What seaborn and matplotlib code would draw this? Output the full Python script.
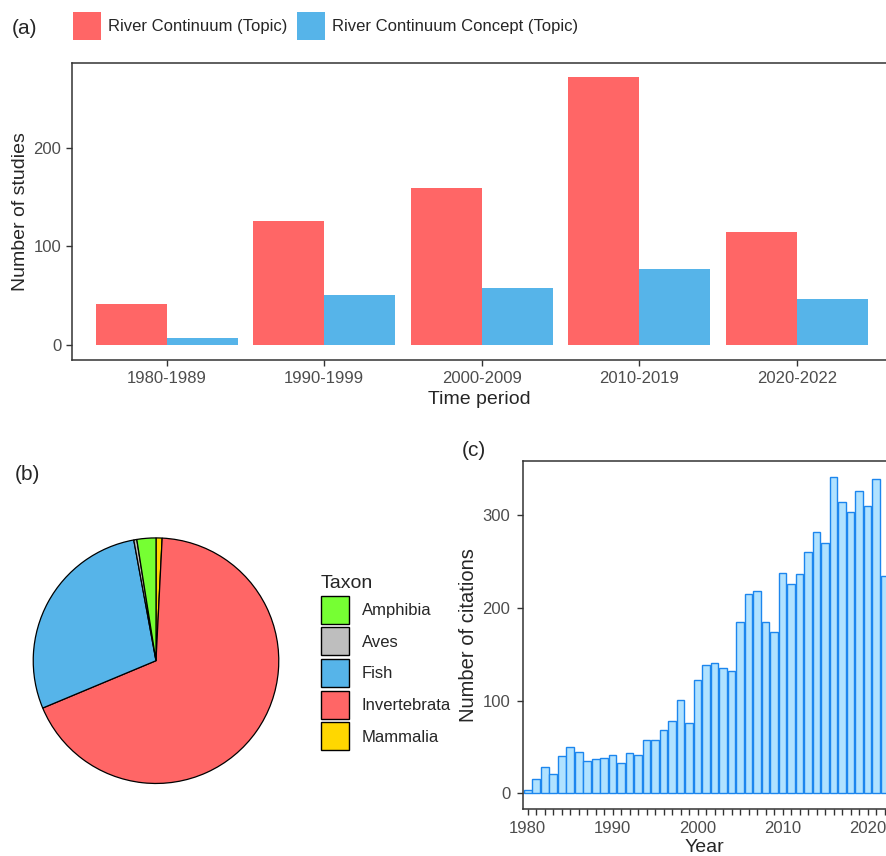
import numpy as np
import pandas as pd
import matplotlib
matplotlib.use("Agg")
import matplotlib.pyplot as plt
import seaborn as sns
from matplotlib.patches import Patch

# ---- data ----
periods = ["1980-1989", "1990-1999", "2000-2009", "2010-2019", "2020-2022"]
series_names = ["River Continuum (Topic)", "River Continuum Concept (Topic)"]
rc_topic = [42, 126, 159, 272, 115]
rcc_topic = [7, 51, 58, 77, 47]

taxa = ["Amphibia", "Aves", "Fish", "Invertebrata", "Mammalia"]
taxa_share = [2.5, 0.4, 28.4, 67.9, 0.8]
taxa_colors = ["#76FF33", "#BEBEBE", "#56B4E9", "#FF6666", "#FFD700"]

years = list(range(1980, 2023))
citations = [3, 15, 28, 21, 40, 50, 44, 35, 37, 38,
             41, 33, 43, 41, 57, 57, 68, 78, 101, 76,
             122, 138, 141, 135, 132, 185, 215, 218, 185, 174,
             238, 226, 237, 260, 282, 270, 342, 315, 304, 326,
             310, 339, 235]

red = "#FF6666"
blue = "#56B4E9"

sns.set_style("white")
plt.rcParams["font.family"] = ["Liberation Sans", "DejaVu Sans"]

W, H = 887, 856
fig = plt.figure(figsize=(W / 100, H / 100), dpi=100)


def box(x0, y0, x1, y1):
    # pixel box (top-left origin) -> figure fraction
    return [x0 / W, 1 - y1 / H, (x1 - x0) / W, (y1 - y0) / H]


def style_axes(ax):
    for s in ["left", "bottom", "top"]:
        ax.spines[s].set_visible(True)
        ax.spines[s].set_color("#333333")
        ax.spines[s].set_linewidth(1.1)
    ax.spines["right"].set_visible(False)
    ax.tick_params(axis="both", which="both", direction="out", length=4.3,
                   width=1.0, color="#333333", labelcolor="#4D4D4D",
                   labelsize=12, pad=3.5, bottom=True, left=True)
    ax.grid(False)


# ---- (a) grouped bars ----
df_a = pd.DataFrame({
    "period": periods * 2,
    "series": [series_names[0]] * 5 + [series_names[1]] * 5,
    "count": rc_topic + rcc_topic,
})
ax_a = fig.add_axes(box(72.3, 62.7, 887, 360))
sns.barplot(data=df_a, x="period", y="count", hue="series", order=periods,
            hue_order=series_names, palette=[red, blue], width=0.9, gap=0,
            saturation=1, edgecolor="none", legend=False, ax=ax_a)
ax_a.set_xlim(-0.6, 4.573)
ax_a.set_ylim(-14.9, 286)
ax_a.set_yticks([0, 100, 200])
style_axes(ax_a)
ax_a.set_xlabel("Time period", fontsize=14)
ax_a.set_ylabel("Number of studies", fontsize=14)
ax_a.xaxis.set_label_coords(0.5, -0.105)
ax_a.yaxis.set_label_coords(-0.053, 0.5)

fig.legend(handles=[Patch(facecolor=red, edgecolor="none"),
                    Patch(facecolor=blue, edgecolor="none")],
           labels=series_names, loc="center left",
           bbox_to_anchor=(73 / W, 1 - 26 / H), ncol=2, frameon=False,
           fontsize=12, handlelength=1.68, handleheight=2.21,
           handletextpad=0.42, columnspacing=0.6, borderpad=0,
           borderaxespad=0)
fig.text(12 / W, 1 - 28 / H, "(a)", fontsize=15, va="center", ha="left")

# ---- (b) pie ----
ax_b = fig.add_axes(box(156 - 124, 660.7 - 124, 156 + 124, 660.7 + 124))
order = list(reversed(range(len(taxa))))
ax_b.pie([taxa_share[i] for i in order], colors=[taxa_colors[i] for i in order],
         startangle=90, counterclock=False, radius=1,
         wedgeprops=dict(edgecolor="black", linewidth=0.9))
ax_b.set_xlim(-1.01, 1.01)
ax_b.set_ylim(-1.01, 1.01)
ax_b.set_aspect("equal")
ax_b.axis("off")

fig.legend(handles=[Patch(facecolor=c, edgecolor="black", linewidth=1.0)
                    for c in taxa_colors],
           labels=taxa, title="Taxon", loc="upper left",
           bbox_to_anchor=(321 / W, 1 - 575 / H), frameon=False,
           fontsize=12, title_fontsize=14, handlelength=1.68,
           handleheight=2.21, handletextpad=0.75, labelspacing=0.22,
           borderpad=0, borderaxespad=0, alignment="left")
fig.text(15 / W, 1 - 474 / H, "(b)", fontsize=15, va="center", ha="left")

# ---- (c) citations per year ----
ax_c = fig.add_axes(box(522.7, 460.7, 887, 809))
sns.barplot(x=years, y=citations, native_scale=True, width=0.9,
            color="#B0E2FF", saturation=1, edgecolor="#1C86EE",
            linewidth=1.0, ax=ax_c)
ax_c.set_xlim(1979.41, 2022.29)
ax_c.set_ylim(-17.1, 359.1)
ax_c.set_yticks([0, 100, 200, 300])
ax_c.set_xticks(years)
ax_c.set_xticklabels([str(y) if y % 10 == 0 else "" for y in years])
style_axes(ax_c)
ax_c.tick_params(axis="x", length=4.0, pad=4.5)
ax_c.tick_params(axis="y", pad=4.5)
ax_c.set_xlabel("Year", fontsize=14)
ax_c.set_ylabel("Number of citations", fontsize=14.5)
ax_c.xaxis.set_label_coords(0.5, -0.085)
ax_c.yaxis.set_label_coords(-0.122, 0.5)
fig.text(462 / W, 1 - 450 / H, "(c)", fontsize=15, va="center", ha="left")

fig.savefig("out.png", dpi=100)
